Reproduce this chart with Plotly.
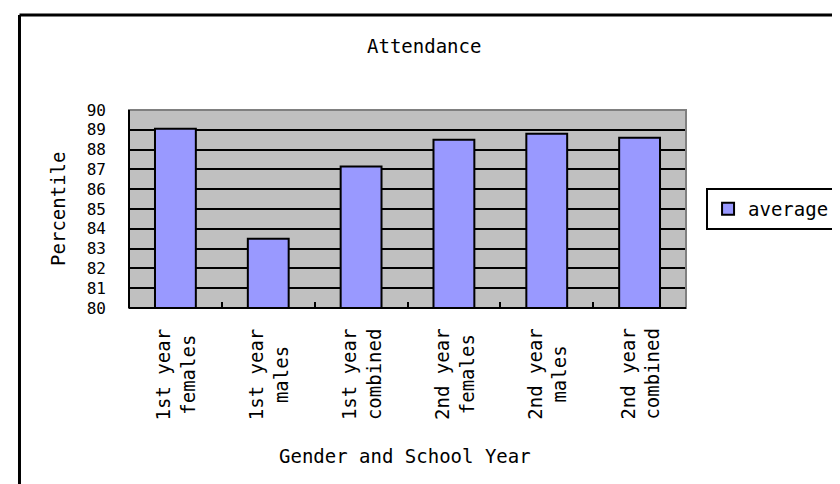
import plotly.graph_objects as go

categories = ["1st year<br>females", "1st year<br>males", "1st year<br>combined",
              "2nd year<br>females", "2nd year<br>males", "2nd year<br>combined"]
average = [89.05, 83.5, 87.15, 88.5, 88.8, 88.6]
y_ticks = list(range(80, 91))

FONT = "DejaVu Sans Mono"
FS = 19

fig = go.Figure()
fig.add_trace(go.Bar(
    x=categories, y=average, name="average", width=0.44,
    marker=dict(color="#9999FF", line=dict(color="black", width=2)),
))

fig.update_layout(
    width=840, height=484,
    margin=dict(l=121, r=139, t=102, b=184),
    paper_bgcolor="white", plot_bgcolor="#C0C0C0",
    font=dict(family=FONT, size=FS, color="black"),
    showlegend=True,
    legend=dict(x=1.036, xanchor="left", y=0.5, yanchor="middle",
                bordercolor="black", borderwidth=2, bgcolor="white",
                font=dict(family=FONT, size=FS)),
)
fig.update_xaxes(
    type="category", tickson="boundaries",
    ticks="inside", ticklen=6, tickwidth=2, tickcolor="black",
    showgrid=False, showline=False, showticklabels=False,
)
fig.update_yaxes(
    range=[80, 90], tickvals=y_ticks, ticktext=[str(v) for v in y_ticks],
    showgrid=True, gridcolor="black", gridwidth=2, zeroline=False,
    ticks="", showline=False, ticklabelstandoff=22,
    tickfont=dict(family=FONT, size=16),
)

shapes = [
    dict(type="rect", xref="x domain", yref="y domain", x0=0, x1=1, y0=0, y1=1,
         line=dict(color="#808080", width=2), layer="above"),
    dict(type="line", xref="x domain", yref="y domain", x0=0, x1=0, y0=0, y1=1,
         line=dict(color="black", width=2), layer="above"),
    dict(type="line", xref="x domain", yref="y domain", x0=0, x1=1, y0=0, y1=0,
         line=dict(color="black", width=2), layer="above"),
    dict(type="line", xref="paper", yref="paper", x0=-0.1966, x1=1.35, y0=1.4798, y1=1.4798,
         line=dict(color="black", width=3)),
    dict(type="line", xref="paper", yref="paper", x0=-0.1966, x1=-0.1966, y0=1.4798, y1=-1.0,
         line=dict(color="black", width=3)),
]
fig.update_layout(shapes=shapes)

# category labels, rotated, lines centred
for cat in categories:
    fig.add_annotation(text=cat, xref="x", yref="paper", x=cat, y=(300 - 318) / 198,
                       textangle=-90, align="center", showarrow=False,
                       xanchor="center", yanchor="top", font=dict(family=FONT, size=FS))

fig.add_annotation(text="Attendance", xref="paper", yref="paper",
                   x=(428 - 121) / 580, y=(300 - 38) / 198, showarrow=False,
                   xanchor="center", yanchor="middle", font=dict(family=FONT, size=FS))
fig.add_annotation(text="Percentile", xref="paper", yref="paper",
                   x=(47 - 121) / 580, y=0.5, textangle=-90, showarrow=False,
                   xanchor="center", yanchor="middle", font=dict(family=FONT, size=FS))
fig.add_annotation(text="Gender and School Year", xref="paper", yref="paper",
                   x=(408 - 121) / 580, y=(300 - 448) / 198, showarrow=False,
                   xanchor="center", yanchor="middle", font=dict(family=FONT, size=FS))

fig.write_html("out.html")
